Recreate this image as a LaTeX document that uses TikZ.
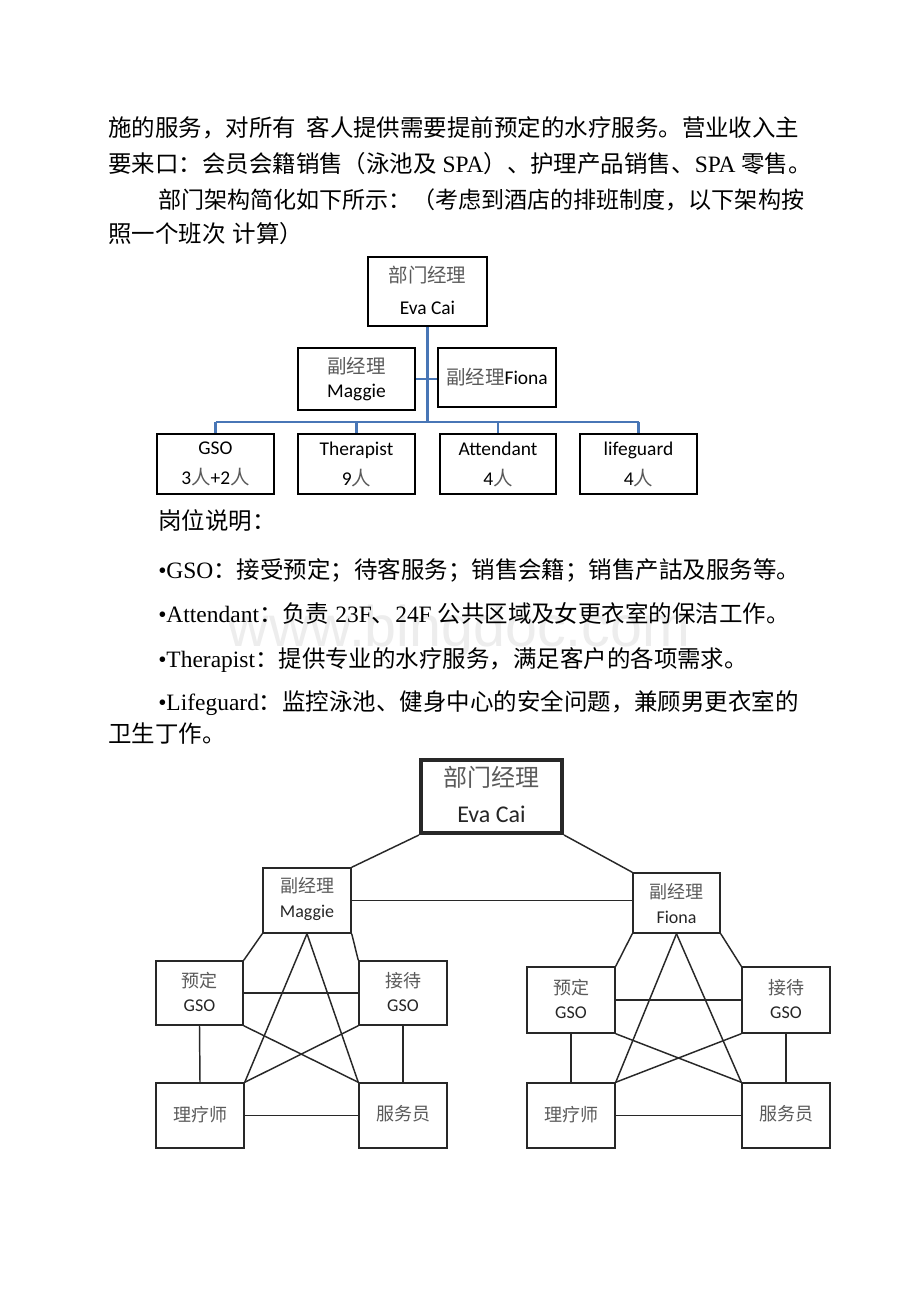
\documentclass[tikz,border=0pt]{standalone}
\usepackage{fontspec}
\setmainfont{Liberation Serif}
\newfontfamily\cjk{Noto Sans CJK SC}
\newfontfamily\calfont{Carlito}
\newfontfamily\wmfont{Liberation Sans}
\usetikzlibrary{fit}
\definecolor{bluel}{RGB}{72,118,182}
\definecolor{zhgray}{RGB}{90,90,90}
\definecolor{lnk}{RGB}{40,40,40}
\newcommand\zh[1]{{\cjk #1}}
\newcommand\gz[1]{{\cjk\color{zhgray}#1}}
\tikzset{
  para/.style={anchor=base west, inner sep=0, font=\fontsize{17.6}{20}\selectfont},
  obox/.style={draw=black, line width=1.9pt, inner sep=0},
  otxt/.style={align=center, inner sep=0, font=\calfont\fontsize{14.6}{#1}\selectfont},
  bl/.style={draw=bluel, line width=1.9pt},
  gbox/.style={draw=lnk, line width=1.1pt, inner sep=0},
  gtxt/.style={align=center, inner sep=0, text=black!85, font=\calfont\fontsize{13.5}{#1}\selectfont},
  gl/.style={draw=lnk, line width=1.1pt}
}
\begin{document}
\begin{tikzpicture}[x=0.75pt,y=-0.75pt]
\useasboundingbox (0,0) rectangle (920,1302);
\fill[white] (0,0) rectangle (920,1302);

% watermark
\node[font=\wmfont\fontsize{43}{43}\selectfont, text=black!7] (wm) at (459,632) {www.bingdoc.com};

% paragraph text
\node[para] (p1) at (108,137) {\zh{施的服务，对所有\hspace{0.45em}客人提供需要提前预定的水疗服务。营业收入主}};
\node[para] (p2) at (108,173) {\zh{要来口：会员会籍销售（泳池及} SPA\zh{）、护理产品销售、}SPA \zh{零售。}};
\node[para, font=\fontsize{17.3}{20}\selectfont] (p3) at (158,209) {\zh{部门架构简化如下所示：（考虑到酒店的排班制度，以下架构按}};
\node[para] (p4) at (108,242) {\zh{照一个班次\hspace{0.3em}计算）}};

\node[para] (d0) at (158,529) {\zh{岗位说明：}};
\node[para] (d1) at (158,578) {•GSO\zh{：接受预定；待客服务；销售会籍；销售产詁及服务等。}};
\node[para] (d2) at (158,622) {•Attendant\zh{：负责} 23F\zh{、}24F \zh{公共区域及女更衣室的保洁工作。}};
\node[para] (d3) at (158,667) {•Therapist\zh{：提供专业的水疗服务，满足客户的各项需求。}};
\node[para] (d4) at (158,710) {•Lifeguard\zh{：监控泳池、健身中心的安全问题，兼顾男更衣室的}};
\node[para] (d5) at (108,742) {\zh{卫生丁作。}};

% ---------- top org chart ----------
\node[obox, fit={(368,257)(487,326)}] (t0) {};
\node[obox, fit={(298,348)(415,410)}] (m1) {};
\node[obox, fit={(438,348)(556,407)}] (f1) {};
\node[obox, fit={(157,434)(274,494)}] (g1) {};
\node[obox, fit={(298,434)(415,494)}] (th1) {};
\node[obox, fit={(440,434)(556,494)}] (at1) {};
\node[obox, fit={(580,434)(697,494)}] (lg1) {};
\node[otxt=24] (t0t) at ([yshift=1pt]t0.center) {\gz{部门经理}\\Eva Cai};
\node[otxt=18] (m1t) at (m1.center) {\gz{副经理}\\Maggie};
\node[otxt=18] (f1t) at (f1.center) {\gz{副经理}Fiona};
\node[otxt=22.5] (g1t) at (g1.center) {GSO\\3\gz{人}+2\gz{人}};
\node[otxt=22.5] (th1t) at (th1.center) {Therapist\\9\gz{人}};
\node[otxt=22.5] (at1t) at (at1.center) {Attendant\\4\gz{人}};
\node[otxt=22.5] (lg1t) at (lg1.center) {lifeguard\\4\gz{人}};
\coordinate (bus) at (428,422);
\draw[bl] (t0.south) -- (t0.south |- bus);
\draw[bl] (m1.east) -- (m1.east -| f1.west);
\draw[bl] (g1.north |- bus) -- (lg1.north |- bus);
\draw[bl] (g1.north |- bus) -- (g1.north);
\draw[bl] (th1.north |- bus) -- (th1.north);
\draw[bl] (at1.north |- bus) -- (at1.north);
\draw[bl] (lg1.north |- bus) -- (lg1.north);

% ---------- bottom chart ----------
\node[gbox, line width=3pt, fit={(421,760)(562,833)}] (tB) {};
\node[gbox, fit={(263,868)(351,933)}] (mB) {};
\node[gbox, fit={(633,873)(720,933)}] (fB) {};
\node[gbox, fit={(156,961)(243,1025)}] (ydL) {};
\node[gbox, fit={(359,961)(447,1025)}] (jdL) {};
\node[gbox, fit={(156,1083)(244,1148)}] (llL) {};
\node[gbox, fit={(359,1083)(447,1148)}] (fwL) {};
\node[gbox, fit={(527,967)(615,1033)}] (ydR) {};
\node[gbox, fit={(742,967)(830,1033)}] (jdR) {};
\node[gbox, fit={(527,1083)(615,1148)}] (llR) {};
\node[gbox, fit={(742,1083)(830,1148)}] (fwR) {};

\node[gtxt=27.5, font=\calfont\fontsize{18}{27.5}\selectfont] (tBt) at ([yshift=1.5pt]tB.center) {\gz{部门经理}\\Eva Cai};
\node[gtxt=18.75] (mBt) at ([yshift=1pt]mB.center) {\gz{副经理}\\Maggie};
\node[gtxt=18.75] (fBt) at (fB.center) {\gz{副经理}\\Fiona};
\node[gtxt=18] (ydLt) at ([yshift=1pt]ydL.center) {\gz{预定}\\GSO};
\node[gtxt=18] (jdLt) at ([yshift=1pt]jdL.center) {\gz{接待}\\GSO};
\node[gtxt=18] (llLt) at ([yshift=1pt]llL.center) {\gz{理疗师}};
\node[gtxt=18] (fwLt) at ([yshift=1pt]fwL.center) {\gz{服务员}};
\node[gtxt=18] (ydRt) at ([yshift=1pt]ydR.center) {\gz{预定}\\GSO};
\node[gtxt=18] (jdRt) at ([yshift=1pt]jdR.center) {\gz{接待}\\GSO};
\node[gtxt=18] (llRt) at ([yshift=1pt]llR.center) {\gz{理疗师}};
\node[gtxt=18] (fwRt) at ([yshift=1pt]fwR.center) {\gz{服务员}};

\draw[gl] (tB.south west) -- (mB.north east);
\draw[gl] (tB.south east) -- (fB.north west);
\draw[gl] (mB.east) -- (mB.east -| fB.west);

% left group
\draw[gl] (mB.south west) -- (ydL.north east);
\draw[gl] (mB.south east) -- (jdL.north west);
\draw[gl] (mB.south) -- (llL.north east);
\draw[gl] (mB.south) -- (fwL.north west);
\draw[gl] (ydL.east) -- (ydL.east -| jdL.west);
\draw[gl] (ydL.south east) -- (fwL.north west);
\draw[gl] (jdL.south west) -- (llL.north east);
\draw[gl] (ydL.south) -- (llL.north);
\draw[gl] (jdL.south) -- (fwL.north);
\draw[gl] (llL.east) -- (llL.east -| fwL.west);

% right group
\draw[gl] (fB.south west) -- (ydR.north east);
\draw[gl] (fB.south east) -- (jdR.north west);
\draw[gl] (fB.south) -- (llR.north east);
\draw[gl] (fB.south) -- (fwR.north west);
\draw[gl] (ydR.east) -- (ydR.east -| jdR.west);
\draw[gl] (ydR.south east) -- (fwR.north west);
\draw[gl] (jdR.south west) -- (llR.north east);
\draw[gl] (ydR.south) -- (llR.north);
\draw[gl] (jdR.south) -- (fwR.north);
\draw[gl] (llR.east) -- (llR.east -| fwR.west);
\end{tikzpicture}
\end{document}
